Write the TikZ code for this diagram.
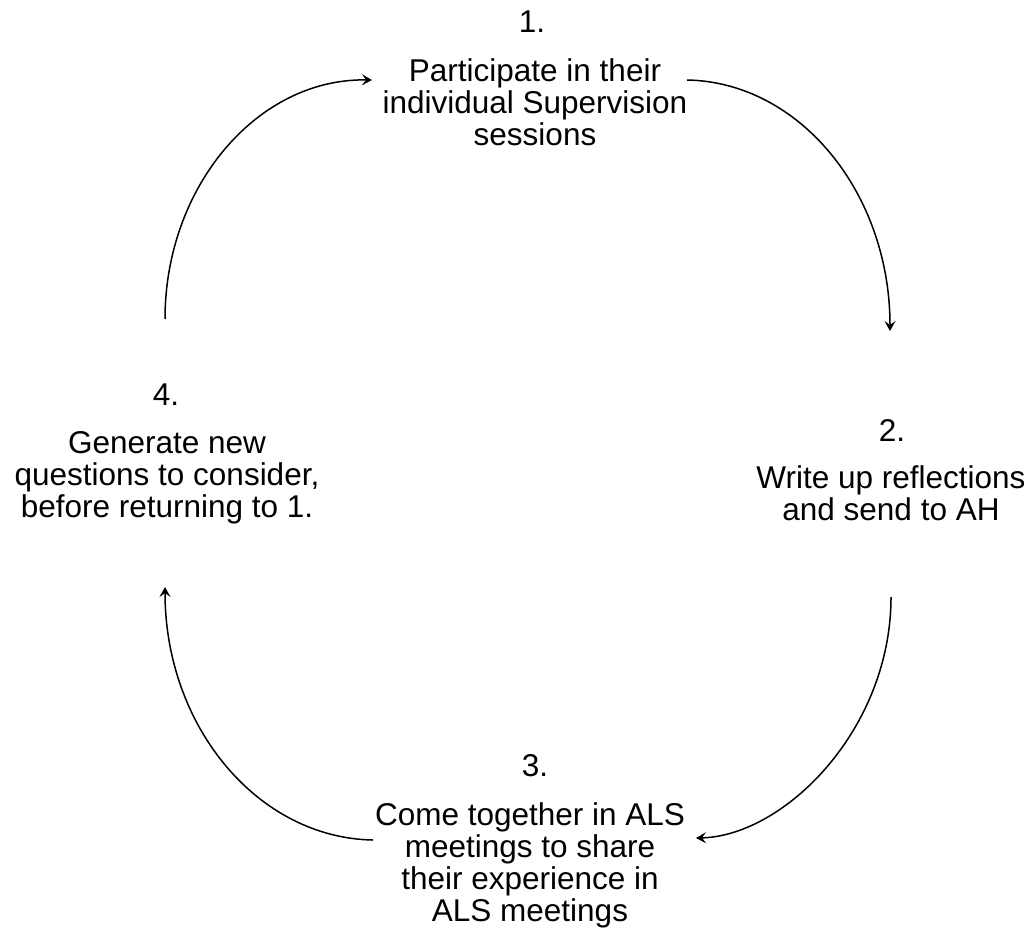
\documentclass[tikz,border=0pt]{standalone}
\usepackage{fontspec}
\setmainfont{Liberation Sans}
\usetikzlibrary{arrows.meta}

\begin{document}
\begin{tikzpicture}[x=1pt, y=-1pt,
  every node/.style={font=\fontsize{31.5}{32}\selectfont, inner sep=0pt, anchor=north, align=center},
  cycle arrow/.style={line width=1.5pt, -{Stealth[length=10pt,width=11pt,inset=4pt]}}]
  \useasboundingbox (0,0) rectangle (1035,931);
  % stage 1
  \node (num1) at (532,10.4) {1.};
  \node (stage1) at (535,58) {Participate in their\\ individual Supervision\\ sessions};
  % stage 2
  \node (num2) at (892,419) {2.};
  \node (stage2) at (891,465) {Write up reflections\\ and send to AH};
  % stage 3
  \node (num3) at (535,754) {3.};
  \node (stage3) at (530,802) {Come together in ALS\\ meetings to share\\ their experience in\\ ALS meetings};
  % stage 4
  \node (num4) at (166,384) {4.};
  \node (stage4) at (167,431) {Generate new\\ questions to consider,\\ before returning to 1.};
  % arrows round the cycle
  \coordinate (from4) at (165,319);
  \coordinate (to1) at (372,80);
  \coordinate (from1) at (687,80);
  \coordinate (to2) at (890,331);
  \coordinate (from2) at (891,597);
  \coordinate (to3) at (696,838);
  \coordinate (from3) at (373,840);
  \coordinate (to4) at (165,587);
  \draw[cycle arrow] (from4) .. controls (165,187) and (257,78) .. (to1);
  \draw[cycle arrow] (from1) .. controls (799,82) and (890,192) .. (to2);
  \draw[cycle arrow] (from2) .. controls (891,730) and (784,836) .. (to3);
  \draw[cycle arrow] (from3) .. controls (258,838) and (165,727) .. (to4);
\end{tikzpicture}
\end{document}
